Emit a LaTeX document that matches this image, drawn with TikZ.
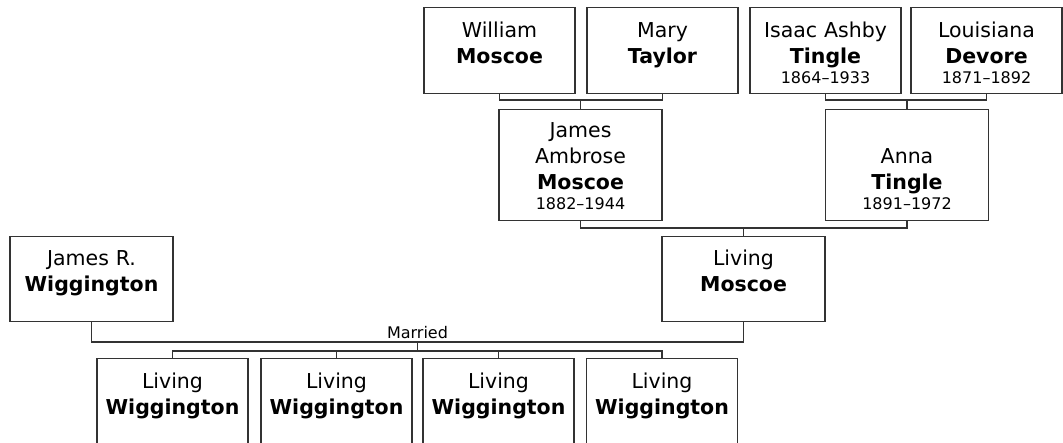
\documentclass[tikz,border=0pt]{standalone}
\usepackage{fontspec}
\setmainfont{DejaVu Sans}

\newcommand{\years}[1]{\\[-3pt]{\fontsize{8}{10}\selectfont #1}}

\begin{document}
\begin{tikzpicture}[x=0.5pt, y=-0.5pt,
		person/.style={draw=black!80, line width=0.6pt, anchor=north, inner sep=0pt, align=center, font=\fontsize{10.25}{13}\selectfont},
		narrow/.style={text width=75.5pt},
		wide/.style={text width=81.5pt},
		link/.style={draw=black!80, line width=0.6pt}]
		\useasboundingbox (0,0) rectangle (1063,443);
		\clip (0,0) rectangle (1063,443);
		
		% great-grandparents
		\node[person, narrow, text height=15pt, text depth=28pt] (wmoscoe) at (499.5,7) {William\\\textbf{Moscoe}};
		\node[person, narrow, text height=15pt, text depth=28pt] (mtaylor) at (662.5,7) {Mary\\\textbf{Taylor}};
		\node[person, narrow, text height=15pt, text depth=28pt] (itingle) at (825.5,7) {Isaac Ashby\\\textbf{Tingle}\years{1864–1933}};
		\node[person, narrow, text height=15pt, text depth=28pt] (ldevore) at (986.5,7) {Louisiana\\\textbf{Devore}\years{1871–1892}};
		
		% grandparents
		\node[person, wide, text height=14pt, text depth=41.5pt] (jmoscoe) at (580.5,109) {James\\Ambrose\\\textbf{Moscoe}\years{1882–1944}};
		\node[person, wide, text height=27pt, text depth=28.5pt] (atingle) at (907,109) {Anna\\\textbf{Tingle}\years{1891–1972}};
		
		% parents
		\node[person, wide, text height=14.5pt, text depth=28pt] (jwigg) at (91.5,236) {James R.\\\textbf{Wiggington}};
		\node[person, wide, text height=14.5pt, text depth=28pt] (lmoscoe) at (743.5,236) {Living\\\textbf{Moscoe}};
		
		% children
		\foreach \x [count=\i] in {172.5,336.5,498.5,662}
			\node[person, narrow, text height=15pt, text depth=45pt] (kid\i) at (\x,358) {Living\\\textbf{Wiggington}};
		
		% connectors
		\coordinate (bar1) at (jmoscoe.north |- 0,100);
		\coordinate (bar2) at (atingle.north |- 0,100);
		\coordinate (bar3) at (lmoscoe.north |- 0,228);
		\draw[link] (wmoscoe.south) |- (bar1) -| (mtaylor.south);
		\draw[link] (bar1) -- (jmoscoe.north);
		\draw[link] (itingle.south) |- (bar2) -| (ldevore.south);
		\draw[link] (bar2) -- (atingle.north);
		\draw[link] (jmoscoe.south) |- (bar3) -| (atingle.south);
		\draw[link] (bar3) -- (lmoscoe.north);
		
		\coordinate (wed) at (417.5,342);
		\coordinate (kids) at (417.5,351);
		\draw[link] (jwigg.south) |- (wed) -| (lmoscoe.south);
		\node[anchor=base, inner sep=0pt, font=\fontsize{8}{10}\selectfont] (married) at (417.5,338) {Married};
		\draw[link] (wed) -- (kids);
		\draw[link] (kid1.north) |- (kids) -| (kid4.north);
		\draw[link] (kid2.north) -- (kid2.north |- kids);
		\draw[link] (kid3.north) -- (kid3.north |- kids);
	\end{tikzpicture}
\end{document}
